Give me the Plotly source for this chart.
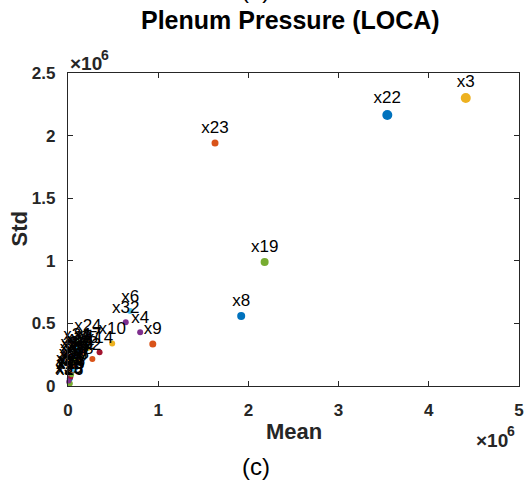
import plotly.graph_objects as go

# Mean and standard deviation of each input variable (units of 1e6)
names = ["x1", "x2", "x3", "x4", "x5", "x6", "x7", "x8", "x9", "x10",
         "x11", "x12", "x13", "x14", "x15", "x16", "x17", "x18", "x19", "x20",
         "x21", "x22", "x23", "x24", "x25", "x26", "x27", "x28", "x29", "x30",
         "x31", "x32", "x33", "x34", "x35", "x36", "x37", "x38", "x39", "x40"]
mean_e6 = [0.05, 0.27, 4.41, 0.80, 0.06, 0.69, 0.10, 1.92, 0.94, 0.49,
           0.04, 0.08, 0.08, 0.35, 0.02, 0.12, 0.22, 0.03, 2.18, 0.06,
           0.14, 3.54, 1.63, 0.22, 0.01, 0.02, 0.09, 0.03, 0.12, 0.05,
           0.15, 0.64, 0.04, 0.10, 0.18, 0.07, 0.02, 0.13, 0.01, 0.06]
std_e6 = [0.12, 0.215, 2.30, 0.43, 0.18, 0.60, 0.20, 0.56, 0.335, 0.34,
          0.10, 0.22, 0.145, 0.27, 0.06, 0.25, 0.30, 0.08, 0.99, 0.13,
          0.26, 2.165, 1.94, 0.37, 0.03, 0.02, 0.17, 0.07, 0.28, 0.16,
          0.23, 0.51, 0.09, 0.30, 0.28, 0.24, 0.11, 0.19, 0.04, 0.20]
marker_px = [5, 6, 10, 6, 5, 6, 5, 8, 7, 6,
             5, 5, 6, 6, 6, 5, 5, 5, 8, 5,
             5, 10, 7, 6, 5, 6, 5, 5, 5, 5,
             5, 6, 5, 5, 5, 5, 5, 5, 5, 5]

palette = ["#0072BD", "#D95319", "#EDB120", "#7E2F8E",
           "#77AC30", "#4DBEEE", "#A2142F"]
colors = [palette[i % len(palette)] for i in range(len(names))]

xtick_vals = [0, 1, 2, 3, 4, 5]
ytick_vals = [0, 0.5, 1, 1.5, 2, 2.5]

scale = 1e6
mean = [m * scale for m in mean_e6]
std = [s * scale for s in std_e6]

W, H = 531, 487
L, R, T, B = 68, 524, 73, 386
AX = "#262626"
FONT = "Arial, Liberation Sans, sans-serif"

fig = go.Figure()
fig.add_trace(go.Scatter(
    x=mean, y=std, mode="markers+text",
    text=names, textposition="top center",
    textfont=dict(family=FONT, size=17, color="black"),
    marker=dict(color=colors, size=marker_px, opacity=1, line=dict(width=0)),
    cliponaxis=False, showlegend=False,
))

def axis(vals, rng):
    return dict(
        range=rng, tickvals=[v * scale for v in vals],
        ticktext=[f"{v:g}" for v in vals],
        ticks="inside", ticklen=5, tickwidth=1, tickcolor=AX,
        showline=True, linecolor=AX, linewidth=1.3, mirror="ticks",
        showgrid=False, zeroline=False, fixedrange=True,
        tickfont=dict(family=FONT, size=17, color=AX, weight="bold"),
        ticklabelstandoff=8,
    )

xa = axis(xtick_vals, [0, 5 * scale])
ya = axis(ytick_vals, [0, 2.5 * scale])

def py(p):
    return (B - p) / (B - T)

def px(p):
    return (p - L) / (R - L)

ann = [
    dict(text="Plenum Pressure (LOCA)", x=px(293), y=py(20),
         font=dict(size=25, weight="bold", color="black")),
    dict(text="(a)", x=px(258), y=py(-11), font=dict(size=24, color="black")),
    dict(text="(c)", x=px(258), y=py(466), font=dict(size=24, color="black")),
    dict(text="Mean", x=px(296), y=py(431), font=dict(size=22, weight="bold", color=AX)),
    dict(text="Std", x=px(18), y=py(229), textangle=-90,
         font=dict(size=22, weight="bold", color=AX)),
    # exponent markers for both axes
    dict(text="×10", x=px(68), y=py(64), xanchor="left",
         font=dict(size=19, weight="bold", color=AX)),
    dict(text="6", x=px(99), y=py(55), xanchor="left",
         font=dict(size=14, weight="bold", color=AX)),
    dict(text="×10", x=px(479), y=py(440), xanchor="left",
         font=dict(size=19, weight="bold", color=AX)),
    dict(text="6", x=px(510), y=py(431), xanchor="left",
         font=dict(size=14, weight="bold", color=AX)),
]
for a in ann:
    a.update(xref="paper", yref="paper", showarrow=False)
    a.setdefault("xanchor", "center")
    a.setdefault("yanchor", "middle")
    a["font"].setdefault("family", FONT)

fig.update_layout(
    width=W, height=H,
    margin=dict(l=L, r=W - R, t=T, b=H - B, pad=0),
    paper_bgcolor="white", plot_bgcolor="white",
    xaxis=xa, yaxis=ya, annotations=ann,
)

fig.write_html("out.html")
